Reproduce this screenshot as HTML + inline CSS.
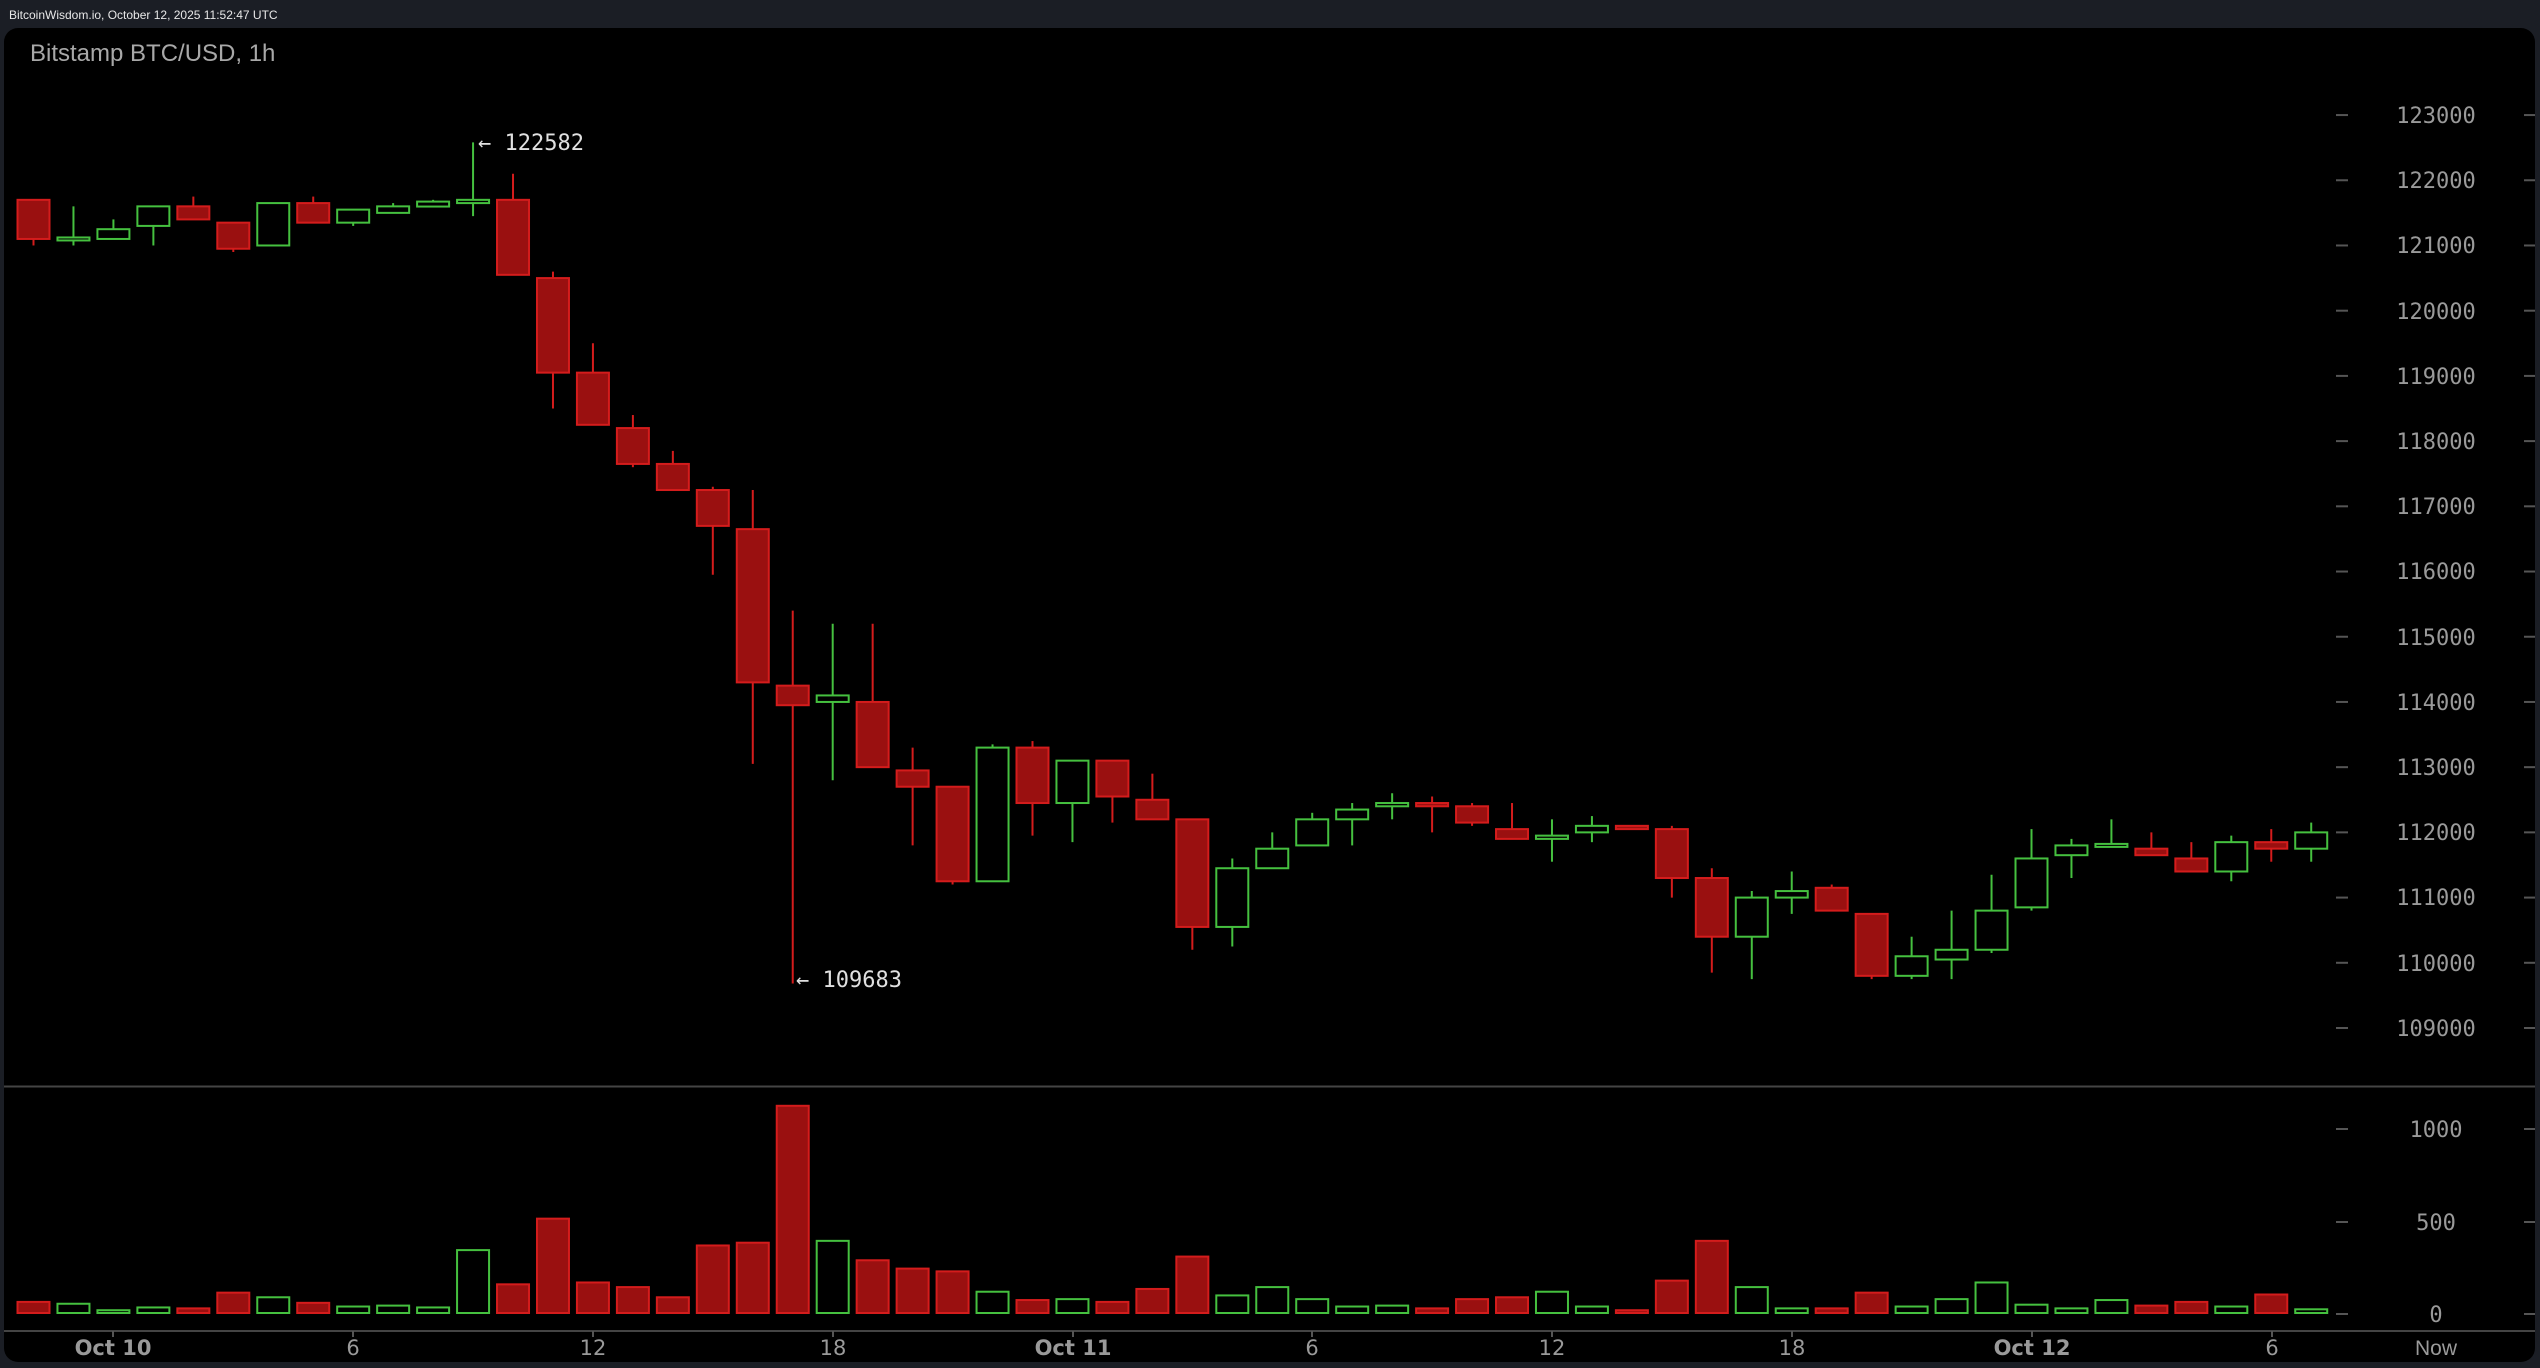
<!DOCTYPE html>
<html><head><meta charset="utf-8"><style>
html,body{margin:0;padding:0;background:#1b1e25;}
svg{display:block}
</style></head><body>
<svg id="s" width="2540" height="1368" viewBox="0 0 2540 1368" xmlns="http://www.w3.org/2000/svg">
<rect x="0" y="0" width="2540" height="1368" fill="#1b1e25"/>
<text x="9" y="19" font-family="Liberation Sans, sans-serif" font-size="12" fill="#e8e8e8">BitcoinWisdom.io, October 12, 2025 11:52:47 UTC</text>
<rect x="4" y="28" width="2531" height="1334" rx="14" fill="#000"/>
<text x="30" y="61" font-family="Liberation Sans, sans-serif" font-size="24" fill="#a8a8a8">Bitstamp BTC/USD, 1h</text>
<line x1="4" y1="1086.5" x2="2535" y2="1086.5" stroke="#444" stroke-width="2"/>
<line x1="4" y1="1331" x2="2535" y2="1331" stroke="#444" stroke-width="2"/>
<g font-family="DejaVu Sans Mono, Liberation Mono, monospace" font-size="22" fill="#9a9a9a" text-anchor="middle">
<text x="2436" y="123">123000</text><text x="2436" y="188">122000</text><text x="2436" y="253">121000</text>
<text x="2436" y="319">120000</text><text x="2436" y="384">119000</text><text x="2436" y="449">118000</text>
<text x="2436" y="514">117000</text><text x="2436" y="579">116000</text><text x="2436" y="645">115000</text>
<text x="2436" y="710">114000</text><text x="2436" y="775">113000</text><text x="2436" y="840">112000</text>
<text x="2436" y="905">111000</text><text x="2436" y="971">110000</text><text x="2436" y="1036">109000</text>
<text x="2436" y="1137">1000</text><text x="2436" y="1230">500</text><text x="2436" y="1322">0</text>
<text x="478" y="150" fill="#e0e0e0" text-anchor="start">← 122582</text>
<text x="796" y="987" fill="#e0e0e0" text-anchor="start">← 109683</text>
</g>
<g font-family="DejaVu Sans, Liberation Sans, sans-serif" font-size="21" fill="#9a9a9a" text-anchor="middle">
<text x="113" y="1355" font-weight="bold">Oct 10</text><text x="353" y="1355">6</text><text x="593" y="1355">12</text>
<text x="833" y="1355">18</text><text x="1073" y="1355" font-weight="bold">Oct 11</text><text x="1312" y="1355">6</text>
<text x="1552" y="1355">12</text><text x="1792" y="1355">18</text><text x="2032" y="1355" font-weight="bold">Oct 12</text>
<text x="2272" y="1355">6</text><text x="2436" y="1355" font-family="Liberation Sans, sans-serif">Now</text>
</g>
<g id="c"></g>
</svg>
<script>
var d=[[121700,121100,121700,121000],[121100,121100,121600,121000],[121100,121250,121400,121100],[121300,121600,121600,121000],[121600,121400,121750,121400],[121350,120950,121350,120900],[121000,121650,121650,121000],[121650,121350,121750,121350],[121350,121550,121550,121300],[121500,121600,121650,121500],[121620,121650,121700,121620],[121650,121700,122582,121450],[121700,120550,122100,120550],[120500,119050,120600,118500],[119050,118250,119500,118250],[118200,117650,118400,117600],[117650,117250,117850,117250],[117250,116700,117300,115950],[116650,114300,117250,113050],[114250,113950,115400,109683],[114000,114100,115200,112800],[114000,113000,115200,113000],[112950,112700,113300,111800],[112700,111250,112700,111200],[111250,113300,113350,111250],[113300,112450,113400,111950],[112450,113100,113100,111850],[113100,112550,113100,112150],[112500,112200,112900,112200],[112200,110550,112200,110200],[110550,111450,111600,110250],[111450,111750,112000,111450],[111800,112200,112300,111800],[112200,112350,112450,111800],[112400,112450,112600,112200],[112450,112400,112550,112000],[112400,112150,112450,112100],[112050,111900,112450,111900],[111900,111950,112200,111550],[112000,112100,112250,111850],[112100,112050,112100,112050],[112050,111300,112100,111000],[111300,110400,111450,109850],[110400,111000,111100,109750],[111000,111100,111400,110750],[111150,110800,111200,110800],[110750,109800,110750,109750],[109800,110100,110400,109750],[110050,110200,110800,109750],[110200,110800,111350,110150],[110850,111600,112050,110800],[111650,111800,111900,111300],[111800,111800,112200,111800],[111750,111650,112000,111650],[111600,111400,111850,111400],[111400,111850,111950,111250],[111850,111750,112050,111550],[111750,112000,112150,111550]];
var v=[60,50,15,30,25,110,85,55,35,40,30,340,155,510,165,140,85,365,380,1120,390,285,240,225,115,70,75,60,130,305,95,140,75,35,40,25,75,85,115,35,15,175,390,140,25,25,110,35,75,165,45,25,70,40,60,35,100,20];
function Y(p){return 1028-(p-109000)*0.06521;}
var h='';
for(var i=0;i<d.length;i++){var o=d[i][0],c=d[i][1],hi=d[i][2],lo=d[i][3];var x=33.5+39.96*i;var up=c>=o;
var s=up?'#45c03f':'#d41c1c',f=up?'#000':'#9a1010';
var t=Y(Math.max(o,c)),b=Y(Math.min(o,c));if(b-t<3){t-=1.5;b+=1.5;}
h+='<line x1="'+x+'" x2="'+x+'" y1="'+Y(hi)+'" y2="'+Y(lo)+'" stroke="'+s+'" stroke-width="2"/>';
h+='<rect x="'+(x-16)+'" y="'+t+'" width="32" height="'+(b-t)+'" fill="'+f+'" stroke="'+s+'" stroke-width="2"/>';
var vh=v[i]*0.185;
h+='<rect x="'+(x-16)+'" y="'+(1313-vh)+'" width="32" height="'+vh+'" fill="'+f+'" stroke="'+s+'" stroke-width="2"/>';}
var ticks=[123000,122000,121000,120000,119000,118000,117000,116000,115000,114000,113000,112000,111000,110000,109000];
ticks.forEach(function(p){var y=Y(p);h+='<line x1="2336" x2="2348" y1="'+y+'" y2="'+y+'" stroke="#555" stroke-width="2"/><line x1="2524" x2="2535" y1="'+y+'" y2="'+y+'" stroke="#555" stroke-width="2"/>';});
[1129,1222,1314].forEach(function(y){h+='<line x1="2336" x2="2348" y1="'+y+'" y2="'+y+'" stroke="#555" stroke-width="2"/><line x1="2524" x2="2535" y1="'+y+'" y2="'+y+'" stroke="#555" stroke-width="2"/>';});
[113,353,593,833,1073,1312,1552,1792,2032,2272].forEach(function(x){h+='<line x1="'+x+'" x2="'+x+'" y1="1331" y2="1337" stroke="#555" stroke-width="2"/>';});
document.getElementById('c').innerHTML=h;
</script>
</body></html>
